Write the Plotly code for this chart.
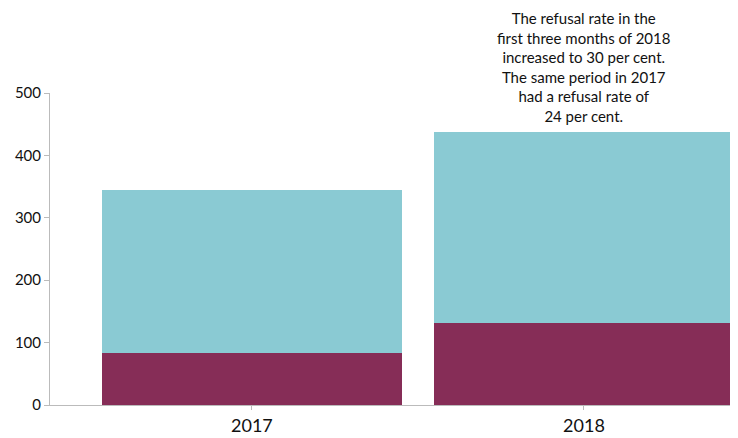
import plotly.graph_objects as go

years = ["2017", "2018"]
refused = [84, 131]
granted = [260, 306]  # remainder on top of refused (totals ~344 and ~437)
y_ticks = [0, 100, 200, 300, 400, 500]
note = ("The refusal rate in the<br>first three months of 2018<br>increased to 30 per cent.<br>"
        "The same period in 2017<br>had a refusal rate of<br>24 per cent.")

teal = "#8ACAD3"
maroon = "#862D57"
font = "Lato"

fig = go.Figure()
fig.add_trace(go.Bar(x=years, y=refused, marker=dict(color=maroon, line=dict(width=0)),
                     width=0.904, name="Refused", hoverinfo="y"))
fig.add_trace(go.Bar(x=years, y=granted, marker=dict(color=teal, line=dict(width=0)),
                     width=0.904, name="Other", hoverinfo="y"))

# page body has an 8px default margin, so offsets compensate for it
fig.update_layout(
    barmode="stack",
    width=738, height=438,
    margin=dict(l=42, r=8, t=85, b=41),
    plot_bgcolor="white", paper_bgcolor="white",
    showlegend=False,
    font=dict(family=font, color="#111111"),
    xaxis=dict(type="category", range=[-0.608, 1.464], showline=True, linecolor="#bbbbbb",
               linewidth=1, ticks="outside", ticklen=4, tickcolor="#bbbbbb",
               tickfont=dict(size=18, color="#111111"), showgrid=False, zeroline=False),
    yaxis=dict(range=[0, 500], tickvals=y_ticks, showline=True, linecolor="#bbbbbb",
               linewidth=1, ticks="outside", ticklen=5, tickcolor="#bbbbbb",
               tickfont=dict(size=15, color="#111111"), showgrid=False, zeroline=False),
)

total_2018 = refused[1] + granted[1]
fig.add_annotation(x=1, y=total_2018 / 500, xref="x", yref="paper",
                   text=note, showarrow=False, yanchor="bottom", yshift=5,
                   font=dict(size=15, color="#111111", family=font), align="center")

fig.write_html("out.html")
